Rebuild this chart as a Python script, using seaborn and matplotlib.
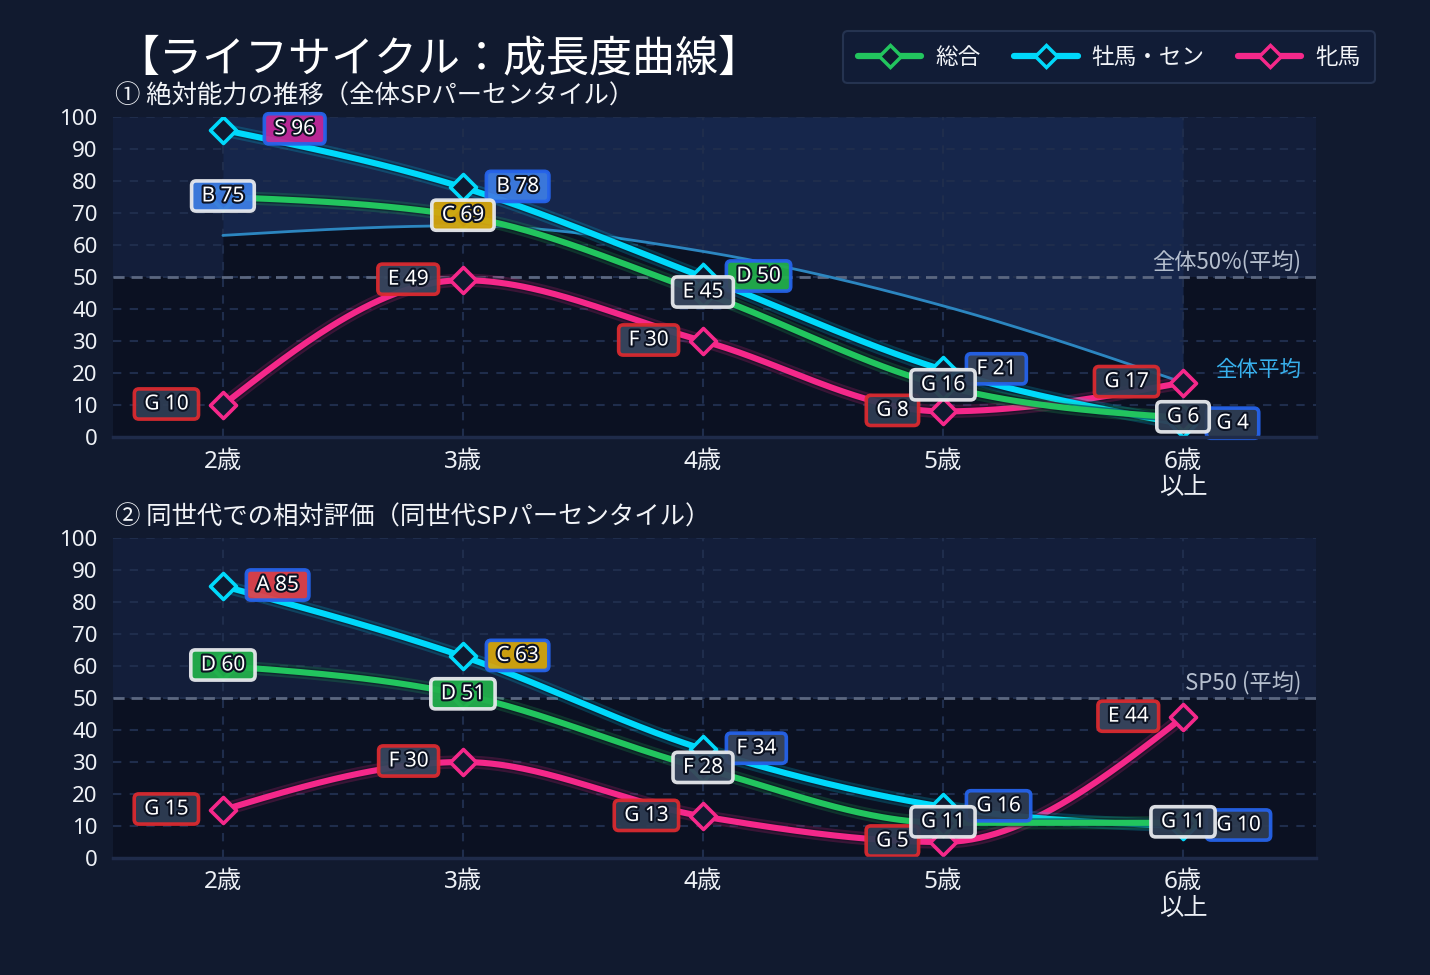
import numpy as np
import pandas as pd
import matplotlib
matplotlib.use("Agg")
import matplotlib.pyplot as plt
import seaborn as sns
from matplotlib import patheffects as pe
from matplotlib.lines import Line2D

# ---------------- data ----------------
ages = ["2歳", "3歳", "4歳", "5歳", "6歳\n以上"]
series_names = ["総合", "牡馬・セン", "牝馬"]

abs_total = [75, 69, 45, 16, 6]
abs_colt = [96, 78, 50, 21, 4]
abs_filly = [10, 49, 30, 8, 17]
abs_avg = [63, 66, 58, 41, 17]
abs_total_grade = ["B", "C", "E", "G", "G"]
abs_colt_grade = ["S", "B", "D", "F", "G"]
abs_filly_grade = ["G", "E", "F", "G", "G"]

rel_total = [60, 51, 28, 11, 11]
rel_colt = [85, 63, 34, 16, 10]
rel_filly = [15, 30, 13, 5, 44]
rel_total_grade = ["D", "D", "F", "G", "G"]
rel_colt_grade = ["A", "C", "F", "G", "G"]
rel_filly_grade = ["G", "F", "G", "G", "E"]

title = "【ライフサイクル：成長度曲線】"
sub1 = "① 絶対能力の推移（全体SPパーセンタイル）"
sub2 = "② 同世代での相対評価（同世代SPパーセンタイル）"

# ---------------- style ----------------
sns.set_theme(style="dark")
plt.rcParams["font.family"] = ["Noto Sans CJK JP", "DejaVu Sans"]
NUM_FONT = ["Noto Sans", "Noto Sans CJK JP", "DejaVu Sans"]

FIG_BG = "#111a2f"
DARK = "#0b1122"
LIGHT = "#131e3a"
LIGHT_BLUE = "#16264b"
GRID = "#1f2d4c"
C_TOTAL = "#22c55e"
C_COLT = "#00d9fb"
C_FILLY = "#f5288a"
MARK_FACE = "#111a30"
BORDER = {"総合": "#e8eaee", "牡馬・セン": "#2563eb", "牝馬": "#dc2a2f"}
GRADE_FACE = {"S": "#c3289a", "A": "#e0424c", "B": "#3d7de4", "C": "#d7a70d",
              "D": "#22b04c", "E": "#38465e", "F": "#38465e", "G": "#2f3d54"}


def monotone(y, n=60):
    """d3 curveMonotoneX style smoothing (rendering only)."""
    y = np.asarray(y, float)
    x = np.arange(len(y), dtype=float)
    h = np.diff(x)
    s = np.diff(y) / h
    m = np.zeros_like(y)
    for i in range(1, len(y) - 1):
        p = (s[i - 1] * h[i] + s[i] * h[i - 1]) / (h[i - 1] + h[i])
        m[i] = (np.sign(s[i - 1]) + np.sign(s[i])) * min(abs(s[i - 1]), abs(s[i]), 0.5 * abs(p))
    m[0] = (3 * s[0] - m[1]) / 2
    m[-1] = (3 * s[-1] - m[-2]) / 2
    xs, ys = [], []
    for i in range(len(y) - 1):
        t = np.linspace(0, 1, n, endpoint=(i == len(y) - 2))
        h00 = 2 * t**3 - 3 * t**2 + 1
        h10 = t**3 - 2 * t**2 + t
        h01 = -2 * t**3 + 3 * t**2
        h11 = t**3 - t**2
        xs.append(x[i] + t * h[i])
        ys.append(h00 * y[i] + h10 * h[i] * m[i] + h01 * y[i + 1] + h11 * h[i] * m[i + 1])
    return np.concatenate(xs), np.concatenate(ys)


fig = plt.figure(figsize=(14.3, 9.75), dpi=100, facecolor=FIG_BG)
ax1 = fig.add_axes([113 / 1430, 1 - 437 / 975, 1203 / 1430, 320 / 975])
ax2 = fig.add_axes([113 / 1430, 1 - 858 / 975, 1203 / 1430, 320 / 975])

pos = np.arange(len(ages))


def draw_panel(ax, total, colt, filly, tg, cg, fg, avg=None, ref_text=""):
    ax.set_facecolor(DARK)
    ax.set_xlim(-0.458, 4.554)
    ax.set_ylim(0, 100)
    ax.axhspan(50, 100, color=LIGHT, zorder=0.2, lw=0)
    if avg is not None:
        ax_x, ax_y = monotone(avg)
        ax.fill_between(ax_x, ax_y, 100, color=LIGHT_BLUE, zorder=0.3, lw=0)
        ax.fill_between(ax_x, 0, ax_y, color=DARK, zorder=0.3, lw=0)
    # grid
    for yv in range(10, 101, 10):
        ax.axhline(yv, color=GRID, lw=1.5, ls=(0, (4, 4)), zorder=1)
    for xv in pos:
        ax.axvline(xv, color=GRID, lw=1.5, ls=(0, (4, 4)), zorder=1)
    ax.axhline(50, color="#5b6780", lw=2, ls=(0, (4, 2.5)), zorder=1.2)
    ax.text(0.988, 51.0, ref_text, transform=ax.get_yaxis_transform(),
            ha="right", va="bottom", fontsize=16, color="#b5bfce", zorder=2)
    if avg is not None:
        sns.lineplot(x=ax_x, y=ax_y, color="#2c86c0", lw=2, ax=ax, zorder=2, sort=False)
        ax.text(0.988, 21, "全体平均", transform=ax.get_yaxis_transform(),
                ha="right", va="center", fontsize=15.5, color="#38b0ec", zorder=2)

    data = [("牝馬", filly, fg, C_FILLY, 3), ("牡馬・セン", colt, cg, C_COLT, 4),
            ("総合", total, tg, C_TOTAL, 5)]
    for name, vals, grades, col, z in data:
        sx, sy = monotone(vals)
        df = pd.DataFrame({"x": sx, "y": sy})
        sns.lineplot(data=df, x="x", y="y", color=col, lw=4.4, ax=ax, zorder=z, sort=False,
                     solid_capstyle="round",
                     path_effects=[pe.Stroke(linewidth=9.5, foreground=col, alpha=0.2),
                                   pe.Stroke(linewidth=6.5, foreground="#0a1020", alpha=0.5),
                                   pe.Normal()])
        sns.scatterplot(x=pos, y=vals, marker="D", s=175, color=MARK_FACE, edgecolor=col,
                        linewidth=2.6, ax=ax, zorder=z + 0.5, legend=False)

    for name, vals, grades, col, z in data:
        for i, (v, g) in enumerate(zip(vals, grades)):
            if name == "総合":
                dx, ha = 0, "center"
            elif name == "牡馬・セン":
                dx, ha = 28, "left"
                if g == "S":
                    dx += 18
            else:
                dx, ha = -29, "right"
            ax.annotate(f" {g} {v} ", xy=(i, v), xytext=(dx, 1), textcoords="offset pixels",
                        ha=ha, va="center", fontsize=15, color="white", family=NUM_FONT,
                        zorder=8 if name == "総合" else 7,
                        bbox=dict(boxstyle="round,pad=0.22,rounding_size=0.22",
                                  fc=GRADE_FACE[g], ec=BORDER[name], lw=2.6, alpha=0.94),
                        path_effects=[pe.withStroke(linewidth=3, foreground="#0c1222")])

    ax.set_xticks(pos)
    ax.set_xticklabels(ages, fontsize=17.5, color="#eef1f6", linespacing=1.12,
                       family=NUM_FONT)
    ax.set_yticks(range(0, 101, 10))
    ax.set_yticklabels([str(v) for v in range(0, 101, 10)], fontsize=16,
                       color="#eef1f6", family=NUM_FONT)
    ax.tick_params(axis="y", length=0, pad=11)
    ax.tick_params(axis="x", length=0, pad=9)
    ax.set_xlabel("")
    ax.set_ylabel("")
    for sp in ["top", "right", "left"]:
        ax.spines[sp].set_visible(False)
    ax.spines["bottom"].set_color("#1f2b4a")
    ax.spines["bottom"].set_linewidth(2.5)
    ax.spines["bottom"].set_zorder(9)
    ax.grid(False)


draw_panel(ax1, abs_total, abs_colt, abs_filly, abs_total_grade, abs_colt_grade,
           abs_filly_grade, avg=abs_avg, ref_text="全体50%(平均)")
draw_panel(ax2, rel_total, rel_colt, rel_filly, rel_total_grade, rel_colt_grade,
           rel_filly_grade, avg=None, ref_text="SP50 (平均)")

ax1.text(0.002, 1.065, sub1, transform=ax1.transAxes, ha="left", va="center",
         fontsize=18.3, color="#f2f4f8")
ax2.text(0.002, 1.065, sub2, transform=ax2.transAxes, ha="left", va="center",
         fontsize=18.3, color="#f2f4f8")
fig.text(116 / 1430, 1 - 59 / 975, title, ha="left", va="center", fontsize=31,
         color="#ffffff")

handles = [Line2D([0], [0], color=c, lw=4.5, marker="D", markersize=11,
                  markerfacecolor=MARK_FACE, markeredgecolor=c, markeredgewidth=2.5)
           for c in (C_TOTAL, C_COLT, C_FILLY)]
leg = fig.legend(handles, series_names, loc="upper right",
                 bbox_to_anchor=(1375 / 1430, 1 - 31 / 975), ncol=3, frameon=True,
                 fontsize=16.3, handlelength=2.8, handletextpad=0.6, columnspacing=1.5,
                 borderpad=0.65, borderaxespad=0, fancybox=True)
leg.get_frame().set_facecolor("#111d38")
leg.get_frame().set_edgecolor("#2b3a58")
leg.get_frame().set_linewidth(1.5)
for t in leg.get_texts():
    t.set_color("#f2f4f8")

fig.savefig("out.png", dpi=100, facecolor=FIG_BG)
